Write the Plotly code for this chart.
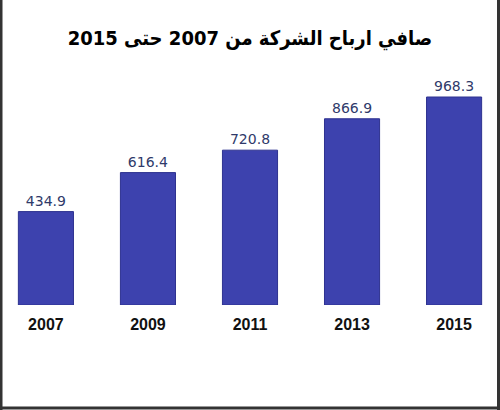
import plotly.graph_objects as go

years = ["2007", "2009", "2011", "2013", "2015"]
profits = [434.9, 616.4, 720.8, 866.9, 968.3]
value_labels = ["434.9", "616.4", "720.8", "866.9", "968.3"]
title_text = "صافي ارباح الشركة من 2007 حتى 2015"

fig = go.Figure()
fig.add_trace(go.Bar(
    x=years,
    y=profits,
    text=value_labels,
    textposition="outside",
    cliponaxis=False,
    textfont=dict(family="DejaVu Sans", size=14, color="#2f3a6a"),
    width=0.54,
    marker=dict(color="#3d42ae", line=dict(color="#2e3290", width=1)),
))

W, H = 500, 410
mt, mb = 70, 105
plot_h = H - mt - mb

fig.update_layout(
    width=W, height=H,
    margin=dict(l=0, r=0, t=mt, b=mb),
    paper_bgcolor="white",
    plot_bgcolor="white",
    showlegend=False,
    title=dict(
        text="<b>" + title_text + "</b>",
        x=0.5, xanchor="center",
        y=1 - 38 / H, yanchor="middle",
        font=dict(family="DejaVu Sans Condensed, DejaVu Sans", size=20, color="black"),
    ),
    xaxis=dict(
        type="category",
        range=[-0.45, 4.45],
        showgrid=False, zeroline=False, showline=False,
        ticks="",
        ticklabelstandoff=8,
        tickfont=dict(family="Liberation Sans", size=16, color="#111"),
        tickprefix="<b>", ticksuffix="</b>",
    ),
    yaxis=dict(
        range=[0, 1094],
        visible=False,
        showgrid=False, zeroline=False,
    ),
    shapes=[
        dict(type="line", xref="paper", yref="paper",
             x0=0.002, x1=0.002, y0=-mb / plot_h, y1=1 + mt / plot_h,
             line=dict(color="#333", width=3)),
        dict(type="line", xref="paper", yref="paper",
             x0=0.997, x1=0.997, y0=-mb / plot_h, y1=1 + mt / plot_h,
             line=dict(color="#333", width=3)),
        dict(type="line", xref="paper", yref="paper",
             x0=0, x1=1, y0=-(mb - 2) / plot_h, y1=-(mb - 2) / plot_h,
             line=dict(color="#333", width=3)),
    ],
)

fig.write_html("out.html")
